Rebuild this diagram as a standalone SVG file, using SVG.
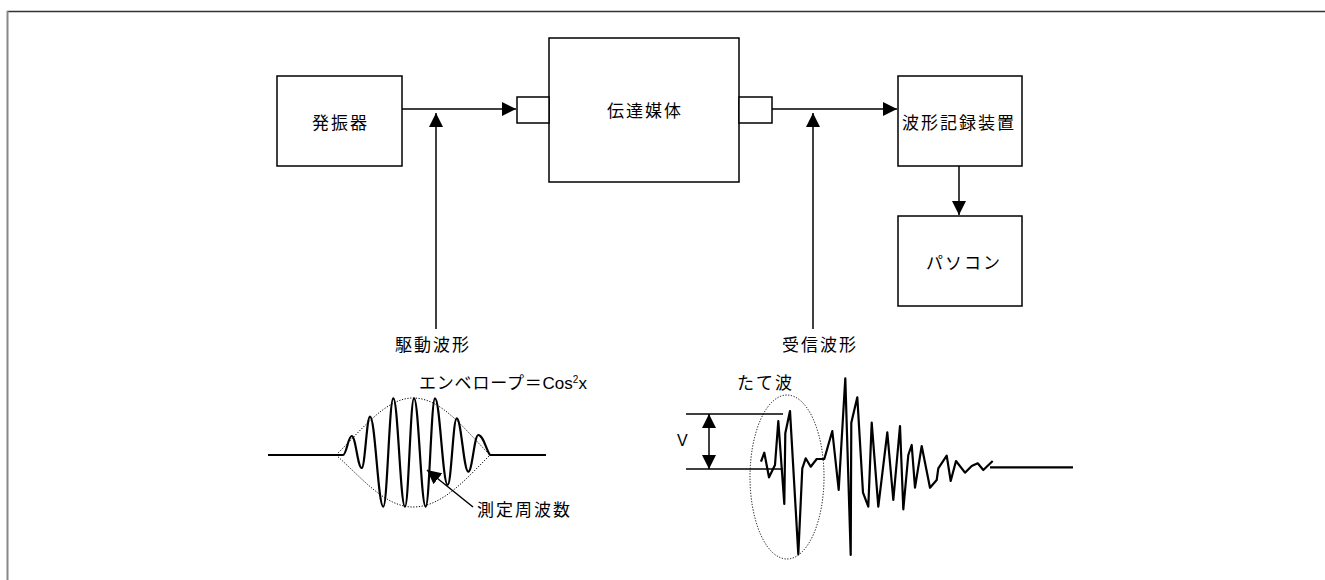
<svg xmlns="http://www.w3.org/2000/svg" width="1325" height="580" viewBox="0 0 1325 580">
<style>
.box{fill:#fff;stroke:#000;stroke-width:1.5}
.ln{fill:none;stroke:#000;stroke-width:1.5}
.wave{fill:none;stroke:#000;stroke-width:2.2;stroke-linejoin:round}
.dot{fill:none;stroke:#000;stroke-width:1;stroke-dasharray:1.2 1.6}
.t{font-family:"Noto Sans CJK JP","Liberation Sans",sans-serif;font-size:17px;letter-spacing:2px;fill:#000}
.lat{font-family:"Liberation Sans","Noto Sans CJK JP",sans-serif}
</style>
<defs>
<marker id="arr" markerUnits="userSpaceOnUse" viewBox="0 0 14 14" refX="14" refY="7" markerWidth="14" markerHeight="14" orient="auto-start-reverse">
<path d="M0,0 L14,7 L0,14 z" fill="#000"/>
</marker>
</defs>
<rect width="1325" height="580" fill="#fff"/>
<g id="frame">
<line x1="7" y1="11.5" x2="1325" y2="11.5" stroke="#333" stroke-width="1.5"/>
<line x1="7.5" y1="11" x2="7.5" y2="580" stroke="#888" stroke-width="2"/>
</g>
<g id="oscillator"><rect class="box" x="277" y="76" width="125" height="90"/><text class="t" x="312" y="129">発振器</text></g>
<g id="medium"><rect class="box" x="549" y="38" width="190" height="144"/><text class="t" x="607" y="117">伝達媒体</text></g>
<g id="tx"><rect class="box" x="517" y="97" width="32" height="26"/></g>
<g id="rx"><rect class="box" x="739" y="97" width="33" height="26"/></g>
<g id="recorder"><rect class="box" x="898" y="76" width="124" height="90"/><text class="t" x="902" y="129">波形記録装置</text></g>
<g id="pc"><rect class="box" x="898" y="216" width="124" height="90"/><text class="t" x="926" y="269">パソコン</text></g>
<g id="connectors">
<line class="ln" x1="402" y1="109" x2="516" y2="109" marker-end="url(#arr)"/>
<line class="ln" x1="772" y1="109" x2="897" y2="109" marker-end="url(#arr)"/>
<line class="ln" x1="959" y1="166" x2="959" y2="215" marker-end="url(#arr)"/>
<line class="ln" x1="436" y1="329" x2="436" y2="113" marker-end="url(#arr)"/>
<line class="ln" x1="813" y1="329" x2="813" y2="113" marker-end="url(#arr)"/>
<line class="ln" x1="473" y1="507" x2="427" y2="470" stroke-width="2" marker-end="url(#arr)"/>
<line class="ln" x1="709" y1="414" x2="709" y2="469" marker-start="url(#arr)" marker-end="url(#arr)"/>
</g>
<g id="drive-label"><text class="t" x="395" y="351">駆動波形</text></g>
<g id="recv-label"><text class="t" x="782" y="351">受信波形</text></g>
<g id="drive-wave">
<path class="dot" d="M336,455 C360,432 385,398 413,398 C442,398 465,430 490,455"/>
<path class="dot" d="M336,455 C362,478 385,507 413,507 C442,507 465,480 490,455"/>
<path class="wave" d="M268,455 H343 C346.5,455 348.2,436 351.7,436 C355.7,436 357.7,468 361.7,468 C365,468 366.7,416.7 370,416.7 C375.3,416.7 378,506.7 383.3,506.7 C387.3,506.7 389.3,398.3 393.3,398.3 C398,398.3 400.3,506.7 405,506.7 C408.6,506.7 410.4,398.3 414,398.3 C418.7,398.3 421,506.7 425.7,506.7 C429.4,506.7 431.3,398.3 435,398.3 C440,398.3 442.6,485 447.7,485 C451.3,485 453.1,418.3 456.7,418.3 C461.3,418.3 463.7,471.7 468.3,471.7 C472.3,471.7 474.3,435 478.3,435 C483,435 486,449 490,455 H546"/>
<text class="t" x="419" y="389" style="letter-spacing:0.8px">エンベロープ＝<tspan class="lat" style="letter-spacing:0">Cos</tspan><tspan class="lat" font-size="10" dy="-6" style="letter-spacing:0">2</tspan><tspan class="lat" dy="6" style="letter-spacing:0">x</tspan></text>
<text class="t" x="477" y="516">測定周波数</text>
</g>
<g id="recv-wave">
<line class="ln" x1="686" y1="414" x2="783" y2="414"/>
<line class="ln" x1="686" y1="469" x2="783" y2="469"/>
<text class="t lat" x="677" y="446" style="letter-spacing:0;font-size:16px">V</text>
<ellipse class="dot" cx="787" cy="477" rx="37" ry="82"/>
<text class="t" x="737" y="389">たて波</text>
<polyline class="wave" points="761,461.7 764.3,452.7 769,477.3 775,465 778.3,421 784.3,504 785.3,433.3 790,411 798.3,554.3 802.3,468.3 805.7,458.3 810.7,466.7 816.7,459 824.3,459 832.3,431 838.7,490 845.3,378.3 850.7,555 851.3,422.7 857.3,397.3 863,492.7 868.3,506.7 871.7,422.7 878.3,506.7 887.3,432.3 893.3,500 900,426 903.3,509.3 908.3,455 911.7,445 915,487.7 921.7,446 930,487.7 936.7,480 938.3,468.3 946.7,455.7 950.7,481 956,461 965,472.7 971.7,466 977.7,463.3 983.3,470 992.7,461"/>
<line class="wave" x1="990" y1="467.3" x2="1073" y2="467.3"/>
</g>
</svg>
